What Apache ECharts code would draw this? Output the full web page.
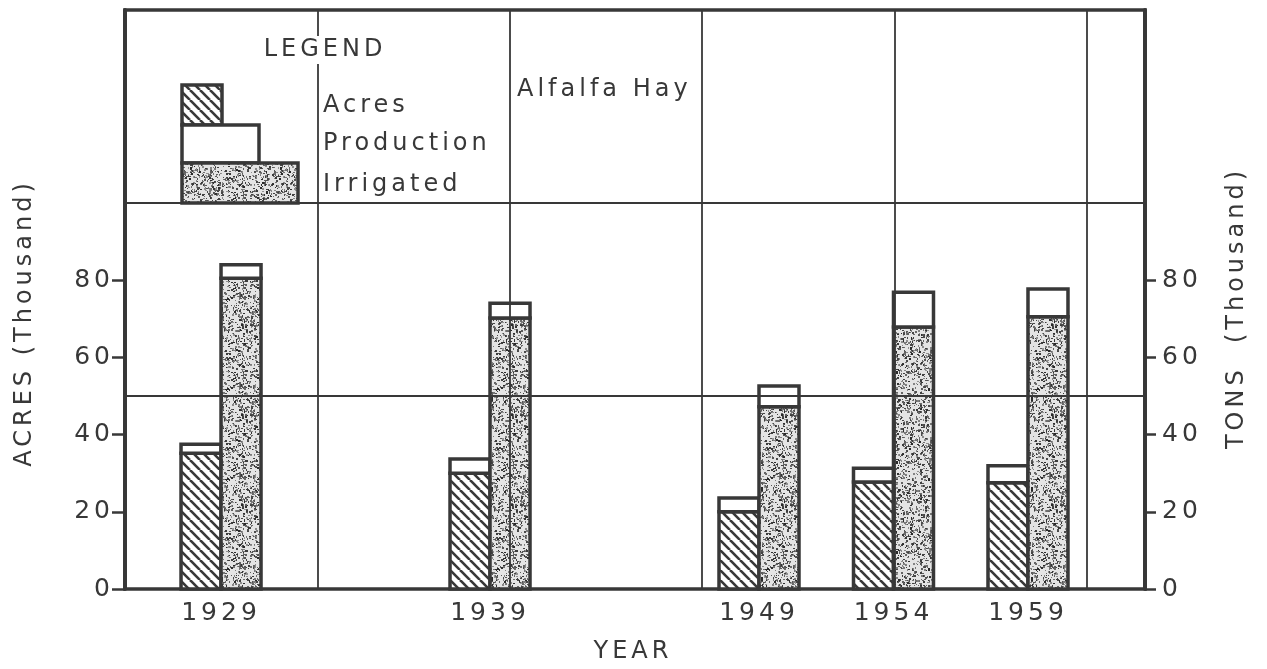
<!DOCTYPE html>
<html>
<head>
<meta charset="utf-8">
<script src="https://cdn.jsdelivr.net/npm/echarts@6/dist/echarts.min.js"></script>
<style>
  html, body { margin: 0; padding: 0; background: #fff; }
  #chart { width: 1267px; height: 669px; }
</style>
</head>
<body>
<div id="chart"></div>
<script>
// Alfalfa hay: acres and production, with the irrigated share of each
const years = [1929, 1939, 1949, 1954, 1959]
const acresTotal = [37.5, 33.7, 23.6, 31.3, 31.9]
const acresIrrigated = [35.2, 30.0, 20.0, 27.7, 27.5]
const prodTotal = [84.0, 74.0, 52.6, 76.9, 77.7]
const prodIrrigated = [80.5, 70.2, 47.2, 67.9, 70.5]
const yTicks = [0, 20, 40, 60, 80]

const ink = '#383838'
const font = 'DejaVu Sans'

// hatch fill  (\\\)
function hatchPattern() {
  const c = document.createElement('canvas')
  c.width = 10
  c.height = 10
  const ctx = c.getContext('2d')
  ctx.fillStyle = '#fff'
  ctx.fillRect(0, 0, 10, 10)
  ctx.strokeStyle = ink
  ctx.lineWidth = 2.6
  for (let k = -1; k <= 1; k++) {
    ctx.beginPath()
    ctx.moveTo(k * 10, 0)
    ctx.lineTo(k * 10 + 10, 10)
    ctx.stroke()
  }
  return c
}

// speckled fill, fixed seed so it looks the same every time
function stipplePattern() {
  const s = 90
  const c = document.createElement('canvas')
  c.width = s
  c.height = s
  const ctx = c.getContext('2d')
  ctx.fillStyle = '#e4e4e4'
  ctx.fillRect(0, 0, s, s)
  let seed = 12345
  const rnd = () => {
    seed = (seed * 1103515245 + 12345) % 2147483648
    return seed / 2147483648
  }
  for (let i = 0; i < 1500; i++) {
    const g = Math.floor(40 + rnd() * 110)
    ctx.fillStyle = `rgb(${g},${g},${g})`
    ctx.fillRect(Math.floor(rnd() * s), Math.floor(rnd() * s), 1 + Math.floor(rnd() * 2), 1 + Math.floor(rnd() * 2))
  }
  return c
}

const hatch = { image: hatchPattern(), repeat: 'repeat' }
const stipple = { image: stipplePattern(), repeat: 'repeat' }

const xMin = 1925.43
const xMax = 1963.35
const yMax = 150
const barW = 40

// [year, from, to] for each bar segment
const segs = (lo, hi) => years.map((y, i) => [y, lo ? lo[i] : 0, hi[i]])

// one piece of a bar, drawn left (-1) or right (+1) of the year
function barPiece(name, data, yAxisIndex, side, fill) {
  return {
    type: 'custom',
    name,
    xAxisIndex: 0,
    yAxisIndex,
    silent: true,
    data,
    encode: { x: 0, y: [1, 2] },
    renderItem: (params, api) => {
      const base = api.coord([api.value(0), api.value(1)])
      const top = api.coord([api.value(0), api.value(2)])
      return {
        type: 'rect',
        shape: {
          x: side < 0 ? base[0] - barW : base[0],
          y: top[1],
          width: barW,
          height: base[1] - top[1],
        },
        style: { fill, stroke: ink, lineWidth: 3.5 },
      }
    },
  }
}

const chart = echarts.init(document.getElementById('chart'))

chart.setOption({
  animation: false,
  backgroundColor: '#fff',
  grid: {
    left: 125, right: 122, top: 10, bottom: 80,
    show: true, borderColor: ink, borderWidth: 3.5, backgroundColor: 'transparent',
  },
  textStyle: { fontFamily: font, color: ink },
  xAxis: [
    {
      type: 'value', min: xMin, max: xMax,
      axisLine: { show: false }, axisTick: { show: false }, splitLine: { show: false },
      axisLabel: {
        customValues: years, formatter: (v) => String(v),
        fontSize: 25, color: ink, margin: 12, fontFamily: font,
      },
    },
    {
      // vertical rulings, drawn over the bars like on the original
      type: 'value', min: xMin, max: xMax, interval: 7.15, position: 'bottom', z: 5,
      axisLine: { show: false }, axisTick: { show: false }, axisLabel: { show: false },
      splitLine: { show: true, lineStyle: { color: ink, width: 1.8 } },
    },
  ],
  yAxis: [
    {
      type: 'value', min: 0, max: yMax, position: 'left',
      axisLine: { show: true, lineStyle: { color: ink, width: 4 } },
      axisTick: { show: true, customValues: yTicks, length: 13, lineStyle: { color: ink, width: 2.5 } },
      axisLabel: { customValues: yTicks, fontSize: 25, color: ink, margin: 11, fontFamily: font },
      splitLine: { show: false },
    },
    {
      type: 'value', min: 0, max: yMax, position: 'right',
      axisLine: { show: true, lineStyle: { color: ink, width: 4 } },
      axisTick: { show: true, customValues: yTicks, length: 11, lineStyle: { color: ink, width: 2.5 } },
      axisLabel: { customValues: yTicks, fontSize: 25, color: ink, margin: 17, fontFamily: font },
      splitLine: { show: false },
    },
    {
      // horizontal rulings
      type: 'value', min: 0, max: yMax, interval: 50, position: 'left', z: 5,
      axisLine: { show: false }, axisTick: { show: false }, axisLabel: { show: false },
      splitLine: { show: true, lineStyle: { color: ink, width: 1.8 } },
    },
  ],
  series: [
    barPiece('Acres irrigated', segs(null, acresIrrigated), 0, -1, hatch),
    barPiece('Acres', segs(acresIrrigated, acresTotal), 0, -1, '#fff'),
    barPiece('Production irrigated', segs(null, prodIrrigated), 1, 1, stipple),
    barPiece('Production', segs(prodIrrigated, prodTotal), 1, 1, '#fff'),
  ],
  graphic: [
    // legend block
    { type: 'rect', shape: { x: 182, y: 85, width: 40, height: 40 }, style: { fill: hatch, stroke: ink, lineWidth: 3.5 }, z: 100 },
    { type: 'rect', shape: { x: 182, y: 125, width: 77, height: 38 }, style: { fill: '#fff', stroke: ink, lineWidth: 3.5 }, z: 100 },
    { type: 'rect', shape: { x: 182, y: 163, width: 116, height: 40 }, style: { fill: stipple, stroke: ink, lineWidth: 3.5 }, z: 100 },
    { type: 'text', x: 325, y: 50, z: 100, style: { text: 'LEGEND', font: `24px "${font}"`, fill: ink, align: 'center', verticalAlign: 'middle', backgroundColor: '#fff', padding: [2, 4] } },
    { type: 'text', x: 323, y: 106, z: 100, style: { text: 'Acres', font: `24px "${font}"`, fill: ink, align: 'left', verticalAlign: 'middle' } },
    { type: 'text', x: 323, y: 144, z: 100, style: { text: 'Production', font: `24px "${font}"`, fill: ink, align: 'left', verticalAlign: 'middle' } },
    { type: 'text', x: 323, y: 185, z: 100, style: { text: 'Irrigated', font: `24px "${font}"`, fill: ink, align: 'left', verticalAlign: 'middle' } },
    { type: 'text', x: 517, y: 90, z: 100, style: { text: 'Alfalfa Hay', font: `24px "${font}"`, fill: ink, align: 'left', verticalAlign: 'middle' } },
    // axis titles
    { type: 'text', x: 25, y: 323, rotation: Math.PI / 2, z: 100, style: { text: 'ACRES (Thousand)', font: `24px "${font}"`, fill: ink, align: 'center', verticalAlign: 'middle' } },
    { type: 'text', x: 1237, y: 308, rotation: Math.PI / 2, z: 100, style: { text: 'TONS  (Thousand)', font: `24px "${font}"`, fill: ink, align: 'center', verticalAlign: 'middle' } },
    { type: 'text', x: 633, y: 652, z: 100, style: { text: 'YEAR', font: `24px "${font}"`, fill: ink, align: 'center', verticalAlign: 'middle' } },
  ],
})

// the lettering on the original is widely spaced; repaint with letter spacing
const painter = chart.getZr().painter
const layers = painter.getLayers ? painter.getLayers() : {}
Object.keys(layers).forEach((k) => {
  if (layers[k].ctx) layers[k].ctx.letterSpacing = '4px'
})
painter.refresh(true)
</script>
</body>
</html>
